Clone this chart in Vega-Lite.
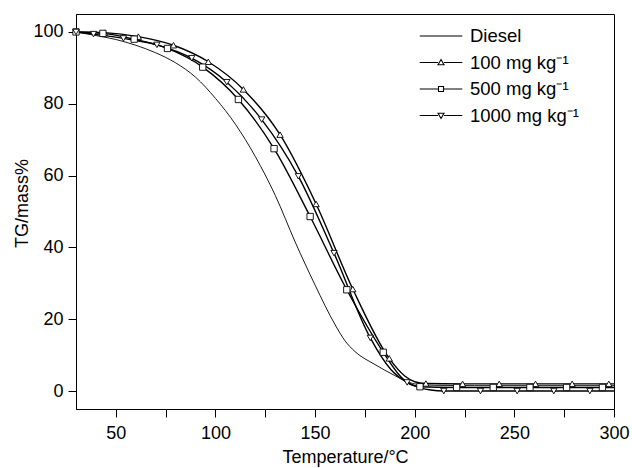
{
  "$schema": "https://vega.github.io/schema/vega-lite/v6.json",
  "width": 538,
  "height": 395,
  "autosize": {"type": "none"},
  "padding": {"left": 76, "top": 14, "right": 18, "bottom": 59},
  "background": "white",
  "config": {
    "view": {"stroke": "black", "strokeWidth": 1},
    "font": "Liberation Sans",
    "axis": {
      "grid": false,
      "domainColor": "black",
      "tickColor": "black",
      "labelColor": "black",
      "titleColor": "black",
      "labelFont": "Liberation Sans",
      "titleFont": "Liberation Sans",
      "labelFontSize": 18,
      "titleFontSize": 18,
      "titleFontWeight": "normal",
      "tickSize": 8,
      "domainWidth": 1,
      "tickWidth": 1
    },
    "legend": {
      "labelFont": "Liberation Sans",
      "labelColor": "black"
    }
  },
  "resolve": {"scale": {"shape": "independent"}, "legend": {"shape": "independent"}},
  "data": {
    "values": [
      {"s": "Diesel", "t": 30, "m": 100, "k": 0},
      {"s": "Diesel", "t": 40, "m": 99.0, "k": 0},
      {"s": "Diesel", "t": 50, "m": 97.9, "k": 0},
      {"s": "Diesel", "t": 60, "m": 96.3, "k": 0},
      {"s": "Diesel", "t": 70, "m": 94.2, "k": 0},
      {"s": "Diesel", "t": 80, "m": 91.4, "k": 0},
      {"s": "Diesel", "t": 90, "m": 87.4, "k": 0},
      {"s": "Diesel", "t": 100, "m": 81.5, "k": 0},
      {"s": "Diesel", "t": 110, "m": 74.3, "k": 0},
      {"s": "Diesel", "t": 120, "m": 65.3, "k": 0},
      {"s": "Diesel", "t": 130, "m": 54.5, "k": 0},
      {"s": "Diesel", "t": 140, "m": 41.5, "k": 0},
      {"s": "Diesel", "t": 150, "m": 29.5, "k": 0},
      {"s": "Diesel", "t": 160, "m": 18.5, "k": 0},
      {"s": "Diesel", "t": 165, "m": 14.0, "k": 0},
      {"s": "Diesel", "t": 170, "m": 11.0, "k": 0},
      {"s": "Diesel", "t": 180, "m": 7.4, "k": 0},
      {"s": "Diesel", "t": 190, "m": 4.3, "k": 0},
      {"s": "Diesel", "t": 195, "m": 2.9, "k": 0},
      {"s": "Diesel", "t": 200, "m": 2.0, "k": 0},
      {"s": "Diesel", "t": 210, "m": 1.6, "k": 0},
      {"s": "Diesel", "t": 230, "m": 1.5, "k": 0},
      {"s": "Diesel", "t": 300, "m": 1.5, "k": 0},

      {"s": "100 mg kg⁻¹", "t": 30, "m": 100, "k": 0},
      {"s": "100 mg kg⁻¹", "t": 44.3, "m": 99.8, "k": 1},
      {"s": "100 mg kg⁻¹", "t": 61.3, "m": 98.7, "k": 1},
      {"s": "100 mg kg⁻¹", "t": 78.9, "m": 96.3, "k": 1},
      {"s": "100 mg kg⁻¹", "t": 96.4, "m": 91.7, "k": 1},
      {"s": "100 mg kg⁻¹", "t": 114, "m": 84.0, "k": 1},
      {"s": "100 mg kg⁻¹", "t": 132.4, "m": 71.4, "k": 1},
      {"s": "100 mg kg⁻¹", "t": 150.5, "m": 52.1, "k": 1},
      {"s": "100 mg kg⁻¹", "t": 168.9, "m": 28.4, "k": 1},
      {"s": "100 mg kg⁻¹", "t": 187.2, "m": 9.1, "k": 1},
      {"s": "100 mg kg⁻¹", "t": 195, "m": 4.2, "k": 0},
      {"s": "100 mg kg⁻¹", "t": 200, "m": 2.6, "k": 0},
      {"s": "100 mg kg⁻¹", "t": 205.6, "m": 2.1, "k": 1},
      {"s": "100 mg kg⁻¹", "t": 224, "m": 2.0, "k": 1},
      {"s": "100 mg kg⁻¹", "t": 242.4, "m": 2.0, "k": 1},
      {"s": "100 mg kg⁻¹", "t": 260.6, "m": 2.0, "k": 1},
      {"s": "100 mg kg⁻¹", "t": 279, "m": 2.0, "k": 1},
      {"s": "100 mg kg⁻¹", "t": 297.4, "m": 2.0, "k": 1},
      {"s": "100 mg kg⁻¹", "t": 300, "m": 2.0, "k": 0},

      {"s": "500 mg kg⁻¹", "t": 30, "m": 100, "k": 1},
      {"s": "500 mg kg⁻¹", "t": 43.5, "m": 99.6, "k": 1},
      {"s": "500 mg kg⁻¹", "t": 59.2, "m": 98.0, "k": 1},
      {"s": "500 mg kg⁻¹", "t": 75.9, "m": 95.4, "k": 1},
      {"s": "500 mg kg⁻¹", "t": 93.6, "m": 90.2, "k": 1},
      {"s": "500 mg kg⁻¹", "t": 111.5, "m": 81.2, "k": 1},
      {"s": "500 mg kg⁻¹", "t": 129.4, "m": 67.5, "k": 1},
      {"s": "500 mg kg⁻¹", "t": 147.5, "m": 48.6, "k": 1},
      {"s": "500 mg kg⁻¹", "t": 165.9, "m": 28.2, "k": 1},
      {"s": "500 mg kg⁻¹", "t": 184.2, "m": 10.8, "k": 1},
      {"s": "500 mg kg⁻¹", "t": 193, "m": 4.0, "k": 0},
      {"s": "500 mg kg⁻¹", "t": 198, "m": 1.8, "k": 0},
      {"s": "500 mg kg⁻¹", "t": 202.6, "m": 1.2, "k": 1},
      {"s": "500 mg kg⁻¹", "t": 221, "m": 1.0, "k": 1},
      {"s": "500 mg kg⁻¹", "t": 239.4, "m": 1.0, "k": 1},
      {"s": "500 mg kg⁻¹", "t": 257.8, "m": 1.0, "k": 1},
      {"s": "500 mg kg⁻¹", "t": 276.2, "m": 1.0, "k": 1},
      {"s": "500 mg kg⁻¹", "t": 294.2, "m": 1.0, "k": 1},
      {"s": "500 mg kg⁻¹", "t": 300, "m": 1.0, "k": 0},

      {"s": "1000 mg kg⁻¹", "t": 30, "m": 100, "k": 1},
      {"s": "1000 mg kg⁻¹", "t": 38.8, "m": 99.4, "k": 1},
      {"s": "1000 mg kg⁻¹", "t": 53.8, "m": 98.2, "k": 1},
      {"s": "1000 mg kg⁻¹", "t": 70.6, "m": 96.4, "k": 1},
      {"s": "1000 mg kg⁻¹", "t": 88.1, "m": 92.7, "k": 1},
      {"s": "1000 mg kg⁻¹", "t": 105.7, "m": 86.0, "k": 1},
      {"s": "1000 mg kg⁻¹", "t": 123.2, "m": 75.6, "k": 1},
      {"s": "1000 mg kg⁻¹", "t": 141.6, "m": 59.8, "k": 1},
      {"s": "1000 mg kg⁻¹", "t": 159.5, "m": 38.4, "k": 1},
      {"s": "1000 mg kg⁻¹", "t": 177.7, "m": 14.8, "k": 1},
      {"s": "1000 mg kg⁻¹", "t": 188, "m": 6.0, "k": 0},
      {"s": "1000 mg kg⁻¹", "t": 196.2, "m": 2.4, "k": 1},
      {"s": "1000 mg kg⁻¹", "t": 203, "m": 0.9, "k": 0},
      {"s": "1000 mg kg⁻¹", "t": 208, "m": 0.3, "k": 0},
      {"s": "1000 mg kg⁻¹", "t": 214.6, "m": 0.0, "k": 1},
      {"s": "1000 mg kg⁻¹", "t": 233, "m": 0.0, "k": 1},
      {"s": "1000 mg kg⁻¹", "t": 251.4, "m": 0.0, "k": 1},
      {"s": "1000 mg kg⁻¹", "t": 269.8, "m": 0.0, "k": 1},
      {"s": "1000 mg kg⁻¹", "t": 287.9, "m": 0.0, "k": 1},
      {"s": "1000 mg kg⁻¹", "t": 300, "m": 0.0, "k": 0}
    ]
  },
  "layer": [
    {
      "mark": {"type": "line", "interpolate": "monotone", "color": "black"},
      "encoding": {
        "x": {
          "field": "t",
          "type": "quantitative",
          "scale": {"domain": [30, 300], "nice": false, "zero": false},
          "axis": {
            "title": "Temperature/°C",
            "values": [50, 75, 100, 125, 150, 175, 200, 225, 250, 275, 300],
            "labelExpr": "datum.value % 50 === 0 ? datum.label : ''",
            "labelPadding": 7,
            "titlePadding": 6,
            "labelFlush": false,
            "encode": {"ticks": {"y2": {"value": {"expr": "datum.value % 50 === 0 ? 8 : 5"}}}}
          }
        },
        "y": {
          "field": "m",
          "type": "quantitative",
          "scale": {"domain": [-5, 105], "nice": false, "zero": false},
          "axis": {
            "title": "TG/mass%",
            "titleY": 189,
            "values": [0, 10, 20, 30, 40, 50, 60, 70, 80, 90, 100],
            "labelExpr": "datum.value % 20 === 0 ? datum.label : ''",
            "labelPadding": 5,
            "titlePadding": 1,
            "labelFlush": false,
            "encode": {"ticks": {"x2": {"value": {"expr": "datum.value % 20 === 0 ? -8 : -5"}}}}
          }
        },
        "detail": {"field": "s", "type": "nominal"},
        "strokeWidth": {"condition": {"test": "datum.s === 'Diesel'", "value": 0.9}, "value": 1.4}
      }
    },
    {
      "transform": [{"filter": "datum.k == 1"}],
      "mark": {"type": "point", "filled": true, "fill": "white", "stroke": "black", "strokeWidth": 0.9, "size": 40, "opacity": 1},
      "encoding": {
        "x": {"field": "t", "type": "quantitative"},
        "y": {"field": "m", "type": "quantitative"},
        "shape": {
          "field": "s",
          "type": "nominal",
          "scale": {"domain": ["100 mg kg⁻¹", "500 mg kg⁻¹", "1000 mg kg⁻¹"], "range": ["triangle-up", "square", "triangle-down"]},
          "legend": null
        }
      }
    },
    {
      "transform": [{"filter": "datum.k == 7"}],
      "mark": {"type": "point", "filled": false, "color": "black", "strokeWidth": 1.1, "size": 400, "opacity": 1},
      "encoding": {
        "x": {"field": "t", "type": "quantitative"},
        "y": {"field": "m", "type": "quantitative"},
        "shape": {
          "field": "s",
          "type": "nominal",
          "scale": {
            "domain": ["Diesel", "100 mg kg⁻¹", "500 mg kg⁻¹", "1000 mg kg⁻¹"],
            "range": [
              "M-2.13,0L2.13,0",
              "M-2.13,0L-0.3,0M0.3,0L2.13,0M0,-0.3L0.3,0.22L-0.3,0.22Z",
              "M-2.13,0L-0.25,0M0.25,0L2.13,0M-0.25,-0.25L0.25,-0.25L0.25,0.25L-0.25,0.25Z",
              "M-2.13,0L-0.3,0M0.3,0L2.13,0M0,0.3L0.3,-0.22L-0.3,-0.22Z"
            ]
          },
          "legend": {
            "title": null,
            "orient": "none",
            "legendX": 354,
            "legendY": 11,
            "symbolSize": 400,
            "labelFontSize": 18.5,
            "labelOffset": 18,
            "rowPadding": 5.5,
            "symbolStrokeColor": "black",
            "symbolFillColor": "transparent",
            "symbolStrokeWidth": 1.1,
            "symbolOpacity": 1
          }
        }
      }
    }
  ]
}
